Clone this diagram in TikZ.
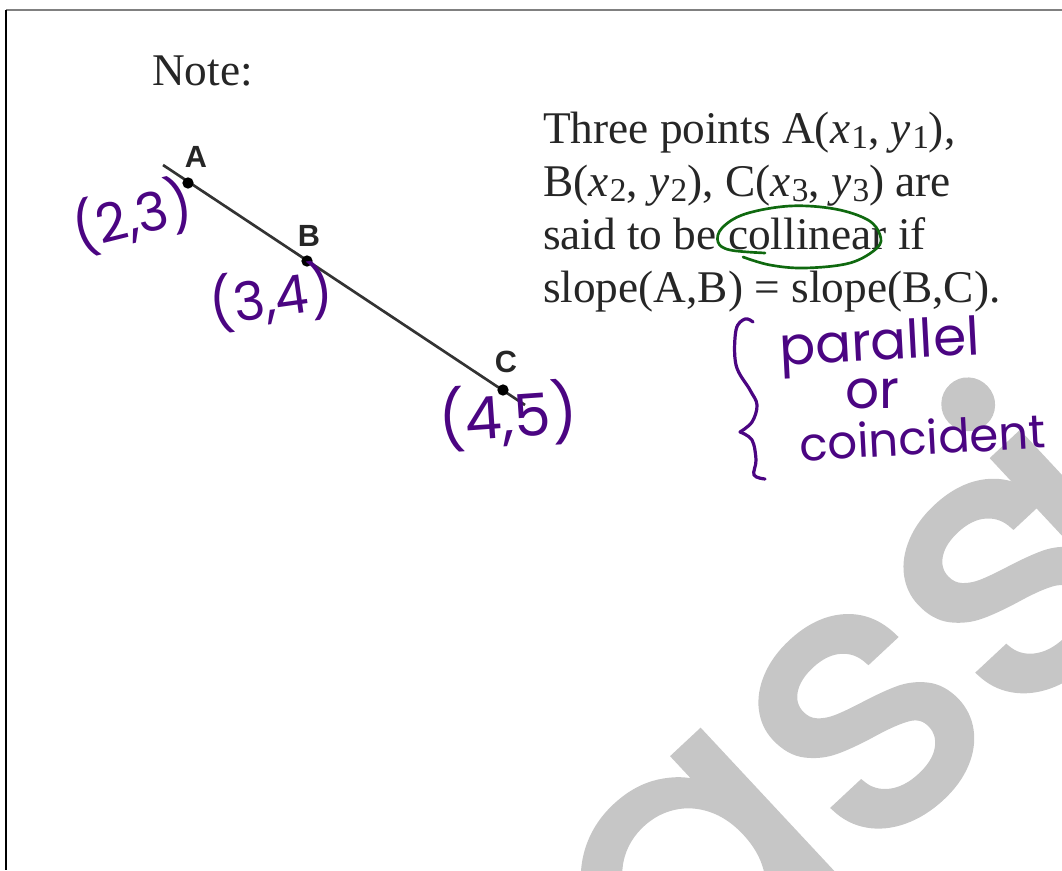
\documentclass[tikz,border=0pt]{standalone}
\usepackage{fontspec}
\setmainfont{Liberation Serif}
\newfontfamily\labelfont{Liberation Sans}
\newfontfamily\handfont{Poppins}
\newfontfamily\markfont[FakeBold=1.8]{Poppins}
\definecolor{ink}{RGB}{75,5,130}
\definecolor{loopgreen}{RGB}{15,105,15}
\definecolor{wmark}{RGB}{198,198,198}
\newcommand{\vsub}[2]{\textit{#1}\kern1pt\raisebox{-0.28ex}{\fontsize{25}{25}\selectfont #2}}
\begin{document}
\begin{tikzpicture}[x=0.75pt,y=-0.75pt,
  every node/.style={inner sep=0pt,outer sep=0pt},
  book/.style={font=\fontsize{34}{40}\selectfont,text=black!85,anchor=base west},
  ptlabel/.style={font=\labelfont\bfseries\fontsize{23}{26}\selectfont,text=black!85},
  dot/.style={circle,fill=black,minimum size=8.5pt},
  hand/.style={font=\handfont\fontsize{40}{48}\selectfont,text=ink},
  pen/.style={line width=2pt,line cap=round,line join=round}]
\useasboundingbox (0,0) rectangle (1062,870);
\clip (0,0) rectangle (1062,870);
% watermark
\node[font=\markfont\fontsize{285}{285}\selectfont,text=wmark,rotate=43,anchor=base west] (wm) at (676,1040) {ass\kern-40pt ignment};
% page frame
\draw[gray,line width=1.5pt] (6,10) -- (1062,10);
\draw[black,line width=1.5pt] (6,10) -- (6,870);
% printed text
\node[book] (note) at (152,86) {Note:};
\node[book] (row1) at (543,143) {Three points A(\vsub{x}{1}, \vsub{y}{1}),};
\node[book] (row2) at (543,196) {B(\vsub{x}{2}, \vsub{y}{2}), C(\vsub{x}{3}, \vsub{y}{3}) are};
\node[book] (row3) at (543,249) {said to be collinear if};
\node[book] (row4) at (543,302) {slope(A,B) = slope(B,C).};
% the line through A, B, C
\coordinate (lineS) at (163,165);
\coordinate (lineE) at (525,405);
\draw[black!80,line width=2pt] (lineS) -- (lineE);
\foreach \n/\x/\y/\lx/\ly in {A/188/183/196/157,B/307/261/309/236,C/503/390/506/362}{
  \node[dot] (\n) at (\x,\y) {};
  \node[ptlabel] (lab\n) at (\lx,\ly) {\n};
}
% handwritten coordinates
\node[hand,rotate=14] (hA) at (132,216) {(2,3)};
\node[hand,rotate=8] (hB) at (271,297) {(3,4)};
\node[hand,rotate=4,font=\handfont\fontsize{44}{50}\selectfont] (hC) at (508,416) {(4,5)};
% loop round "collinear"
\draw[loopgreen,pen] plot[smooth,tension=0.6] coordinates {(743,257) (770,265) (805,268) (850,263) (877,248) (880,235) (868,220) (835,209) (790,206) (745,214) (722,228) (718,242) (730,250) (765,253)};
% brace and note
\draw[ink,pen,line width=2.4pt] plot[smooth,tension=0.6] coordinates {(753,322) (745,319) (736,330) (736,365) (750,390) (757,405) (752,422) (740,432)};
\draw[ink,pen,line width=2.4pt] plot[smooth,tension=0.6] coordinates {(740,432) (752,440) (756,460) (754,475) (765,479)};
\node[hand,anchor=base west,rotate=3] (par) at (780,365) {parallel};
\node[hand,anchor=base west] (orw) at (845,408) {or};
\node[hand,anchor=base west,rotate=3,font=\handfont\fontsize{35}{42}\selectfont] (coin) at (800,461) {coincident};
\end{tikzpicture}
\end{document}
